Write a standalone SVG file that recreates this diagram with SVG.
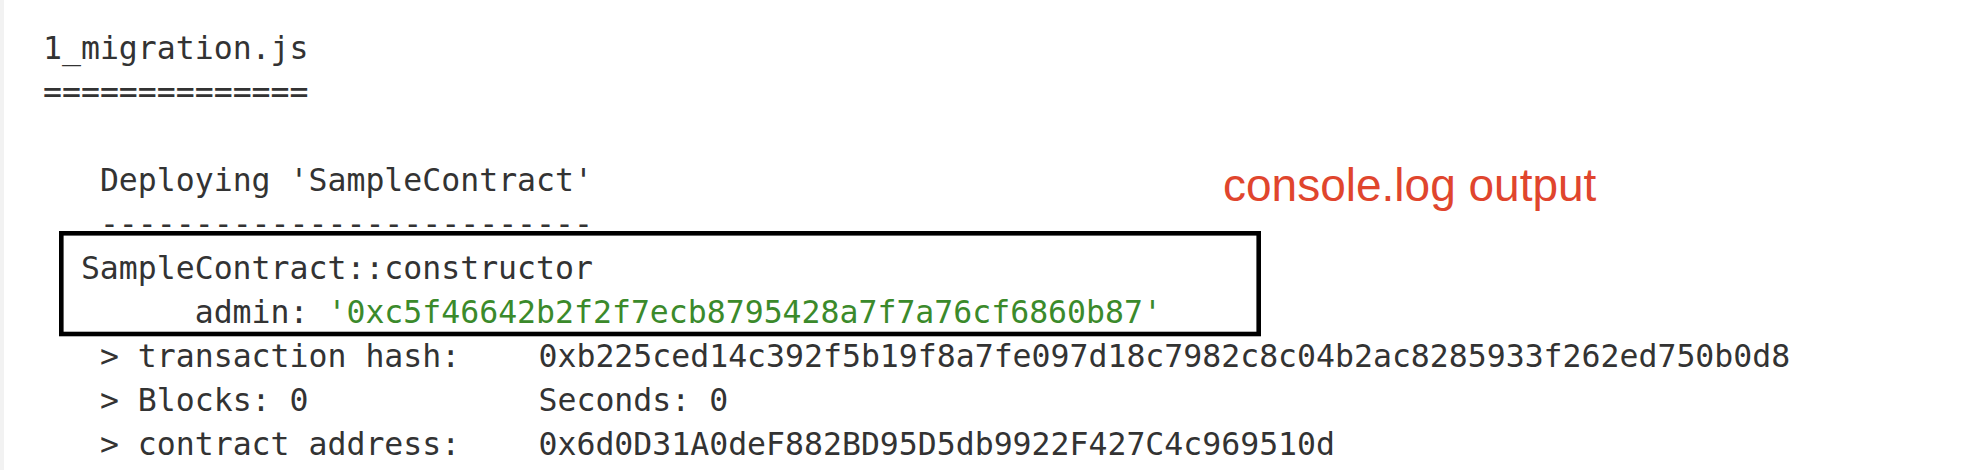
<svg xmlns="http://www.w3.org/2000/svg" width="1988" height="470" viewBox="0 0 1988 470">
  <style>
    .mono { font-family: "DejaVu Sans Mono", "Liberation Mono", monospace; font-size: 31.5px; fill: #333333; }
    .green { fill: #3b8a2b; }
    .label { font-family: "Liberation Sans", Arial, sans-serif; font-size: 46px; fill: #e0452d; }
    .box { fill: none; stroke: #000000; stroke-width: 4.6; }
  </style>
  <rect x="0" y="0" width="1988" height="470" fill="#ffffff"/>
  <rect x="0" y="0" width="4" height="470" fill="#f2f2f2"/>

  <g id="header">
    <text class="mono" x="43" y="58.5">1_migration.js</text>
    <text class="mono" x="43" y="102.5">==============</text>
  </g>

  <g id="deploy">
    <text class="mono" x="99.9" y="190.5">Deploying 'SampleContract'</text>
    <text class="mono" x="99.9" y="234.5">--------------------------</text>
  </g>

  <g id="console-box">
    <rect class="box" x="61.3" y="233.3" width="1197.4" height="100.7"/>
    <text class="mono" x="80.9" y="278.5">SampleContract::constructor</text>
    <text class="mono" x="194.7" y="322.5">admin: <tspan class="green">'0xc5f46642b2f2f7ecb8795428a7f7a76cf6860b87'</tspan></text>
  </g>

  <g id="console-label">
    <text class="label" x="1223" y="200.5">console.log output</text>
  </g>

  <g id="details">
    <text class="mono" x="99.9" y="366.5">&gt; transaction hash:</text>
    <text class="mono" x="538.5" y="366.5">0xb225ced14c392f5b19f8a7fe097d18c7982c8c04b2ac8285933f262ed750b0d8</text>
    <text class="mono" x="99.9" y="410.5">&gt; Blocks: 0</text>
    <text class="mono" x="538.5" y="410.5">Seconds: 0</text>
    <text class="mono" x="99.9" y="454.5">&gt; contract address:</text>
    <text class="mono" x="538.5" y="454.5">0x6d0D31A0deF882BD95D5db9922F427C4c969510d</text>
  </g>
</svg>
